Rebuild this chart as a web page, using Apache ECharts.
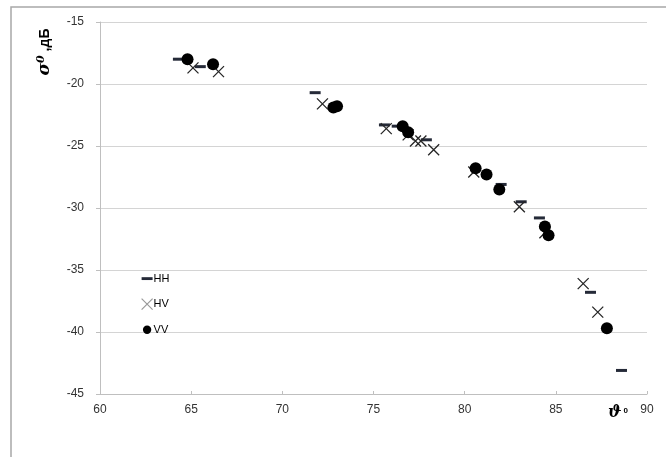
<!DOCTYPE html>
<html>
<head>
<meta charset="utf-8">
<script src="https://cdn.jsdelivr.net/npm/echarts@6/dist/echarts.min.js"></script>
<style>
html,body{margin:0;padding:0;background:#fff;}
#chart{width:666px;height:457px;}
</style>
</head>
<body>
<div id="chart"></div>
<script>
// Data: [angle (deg), sigma0 (dB)]
var seriesNames = ['HH', 'HV', 'VV'];
var hhData = [[64.3,-18.0],[65.5,-18.6],[71.8,-20.7],[75.6,-23.3],[76.3,-23.4],[77.9,-24.5],[82.0,-28.1],[83.1,-29.5],[84.1,-30.8],[86.9,-36.8],[88.6,-43.1]];
var hvData = [[65.1,-18.7],[66.5,-19.0],[72.2,-21.6],[75.7,-23.6],[76.9,-24.1],[77.3,-24.6],[77.6,-24.6],[78.3,-25.3],[80.5,-27.1],[83.0,-29.9],[84.4,-32.0],[86.5,-36.1],[87.3,-38.4]];
var vvData = [[64.8,-18.0],[66.2,-18.4],[72.8,-21.9],[73.0,-21.8],[76.6,-23.4],[76.9,-23.9],[80.6,-26.8],[81.2,-27.3],[81.9,-28.5],[84.4,-31.5],[84.6,-32.2],[87.8,-39.7]];
var xMin = 60, xMax = 90, xStep = 5;
var yMin = -45, yMax = -15, yStep = 5;

var FONT = '"Liberation Sans", Arial, sans-serif';
var dashIcon = 'path://M0,0M10,10M0,3.8h10v2.6h-10z';
var crossIcon = 'path://M0,0L10,10M10,0L0,10';
var dotIcon = 'path://M0,0M10,10M5,1.2a3.8,3.8 0 1,0 0.001,0z';

var chart = echarts.init(document.getElementById('chart'), null, {renderer: 'canvas'});
chart.setOption({
  animation: false,
  backgroundColor: '#ffffff',
  grid: {left: 100, top: 22, right: 19, bottom: 63, containLabel: false},
  legend: {
    orient: 'vertical', left: 136, top: 268, itemGap: 14,
    itemWidth: 11, itemHeight: 11,
    textStyle: {fontFamily: FONT, fontSize: 11, color: '#000', padding: [0,0,0,-4]},
    data: [
      {name: 'HH', icon: dashIcon, itemStyle: {color: '#252a38', opacity: 1}},
      {name: 'HV', icon: crossIcon, itemStyle: {color: 'rgba(0,0,0,0)', borderColor: '#9a9a9a', borderWidth: 1.2, opacity: 1}},
      {name: 'VV', icon: dotIcon, itemStyle: {color: '#000', opacity: 1}}
    ]
  },
  xAxis: {
    type: 'value', min: xMin, max: xMax, interval: xStep,
    axisLine: {show: true, lineStyle: {color: '#bfbfbf', width: 1}},
    axisTick: {show: true, inside: true, length: 3, lineStyle: {color: '#bfbfbf'}},
    axisLabel: {fontFamily: FONT, fontSize: 12, color: '#333', margin: 10},
    splitLine: {show: false}
  },
  yAxis: {
    type: 'value', min: yMin, max: yMax, interval: yStep,
    axisLine: {show: true, onZero: false, lineStyle: {color: '#bfbfbf', width: 1}},
    axisTick: {show: true, length: 4, lineStyle: {color: '#bfbfbf'}},
    axisLabel: {fontFamily: FONT, fontSize: 12, color: '#333', margin: 16},
    splitLine: {show: true, lineStyle: {color: '#d4d4d4', width: 1.2}}
  },
  series: [
    {name: 'HH', type: 'scatter', data: hhData, symbol: 'rect', symbolSize: [11, 3],
     itemStyle: {color: '#252a38', opacity: 1}},
    {name: 'HV', type: 'scatter', data: hvData,
     symbol: crossIcon, symbolSize: 11,
     itemStyle: {color: 'rgba(0,0,0,0)', borderColor: '#262626', borderWidth: 1.3, opacity: 1}},
    {name: 'VV', type: 'scatter', data: vvData, symbol: 'circle', symbolSize: 12,
     itemStyle: {color: '#000', opacity: 1}}
  ],
  graphic: [
    {type: 'rect', shape: {x: 11, y: 7, width: 700, height: 470}, silent: true,
     style: {fill: 'none', stroke: '#a8a8a8', lineWidth: 1.5}, z: -1},
    {type: 'text', x: 45, y: 52, rotation: Math.PI / 2,
     style: {
       text: '{s|σ}{p|0}{n| ,дБ}',
       align: 'center', verticalAlign: 'middle',
       rich: {
         s: {font: 'bold italic 17px "DejaVu Serif", serif', fill: '#000'},
         p: {font: 'bold italic 11px "DejaVu Serif", serif', fill: '#000', verticalAlign: 'top', padding: [0,0,8,0]},
         n: {font: 'bold 14px ' + FONT, fill: '#000'}
       }
     }},
    {type: 'text', x: 618, y: 413,
     style: {
       text: '{s|ϑ}{p|0}',
       align: 'center', verticalAlign: 'middle',
       rich: {
         s: {font: 'bold italic 16px "DejaVu Serif", serif', fill: '#000'},
         p: {font: 'bold 8px ' + FONT, fill: '#000', padding: [0,0,4,2]}
       }
     }}
  ]
});
</script>
</body>
</html>
